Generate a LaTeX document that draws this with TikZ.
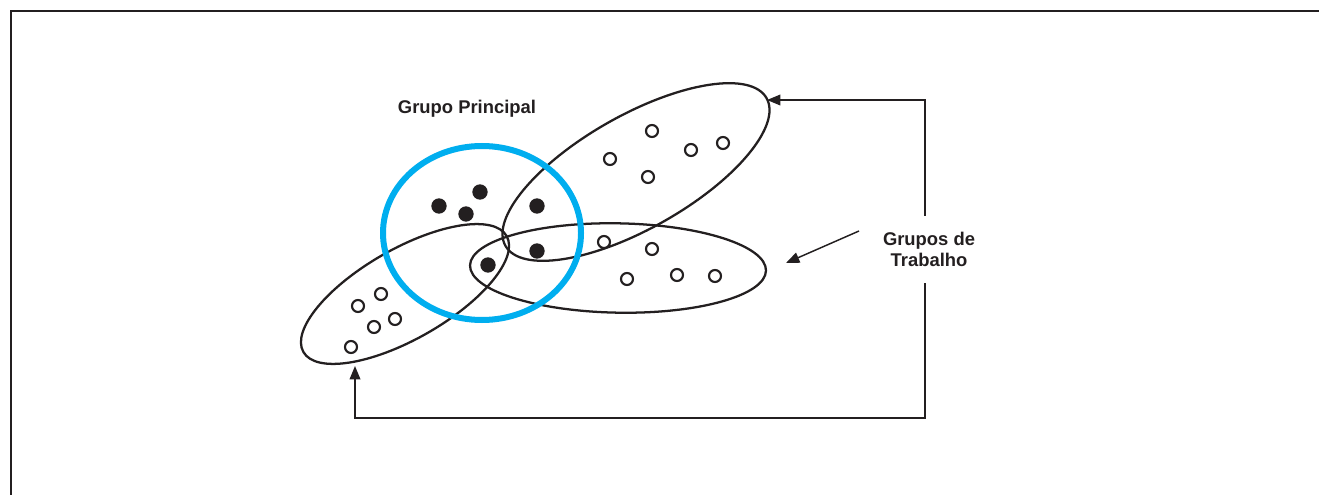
\documentclass[tikz,border=0pt]{standalone}
\usepackage{fontspec}
\setmainfont{Liberation Sans}
\usetikzlibrary{arrows.meta,shapes.geometric}
\definecolor{ink}{HTML}{231F20}
\definecolor{cyanblue}{HTML}{00AEEF}
\begin{document}
\begin{tikzpicture}[x=0.75pt,y=-0.75pt,
  grp/.style={draw=ink,line width=1.7pt,ellipse,inner sep=0pt},
  fdot/.style={circle,fill=ink,inner sep=0pt,minimum size=11.5pt},
  odot/.style={circle,draw=ink,line width=1.6pt,fill=white,inner sep=0pt,minimum size=9pt},
  conn/.style={draw=ink,line width=1.1pt,-{Triangle[length=10pt,width=8pt]}},
  lbl/.style={font=\bfseries\fontsize{13.8pt}{16.5pt}\selectfont,text=ink,inner sep=0pt,align=center}]
\useasboundingbox (0,0) rectangle (1319,495);
\fill[white] (0,0) rectangle (1319,495);
% frame
\draw[ink,line width=1.6pt] (11,495) -- (11,11) -- (1319,11);
% groups
\node[grp,minimum width=225pt,minimum height=85pt,rotate=29.5] (ur) at (636,172) {};
\node[grp,minimum width=175.5pt,minimum height=67.5pt,rotate=29.7] (ll) at (405,294) {};
\node[grp,minimum width=222pt,minimum height=67pt,rotate=-1] (lr) at (618,268) {};
\node[draw=cyanblue,line width=4.5pt,ellipse,inner sep=0pt,minimum width=148.5pt,minimum height=130.5pt] (gpc) at (482,233) {};
% filled dots
\node[fdot] (f1) at (439,206) {};
\node[fdot] (f2) at (480,192) {};
\node[fdot] (f3) at (466,214) {};
\node[fdot] (f4) at (537,206) {};
\node[fdot] (f5) at (537,251) {};
\node[fdot] (f6) at (488,265) {};
% open dots upper right
\node[odot] (o1) at (652,131) {};
\node[odot] (o2) at (610,159) {};
\node[odot] (o3) at (691,150) {};
\node[odot] (o4) at (723,143) {};
\node[odot] (o5) at (648,177) {};
% open dots lower right
\node[odot] (o6) at (604,242) {};
\node[odot] (o7) at (652,249) {};
\node[odot] (o8) at (627,279) {};
\node[odot] (o9) at (677,275) {};
\node[odot] (o10) at (715,276) {};
% open dots lower left
\node[odot] (o11) at (381,294) {};
\node[odot] (o12) at (358,306) {};
\node[odot] (o13) at (395,319) {};
\node[odot] (o14) at (374,327) {};
\node[odot] (o15) at (351,347) {};
% labels
\node[lbl,anchor=base] (gp) at (467,114) {Grupo Principal};
\node[lbl,anchor=base] (gt) at (929,267) {Grupos de\\Trabalho};
% connectors
\coordinate (s1) at (925,216);
\coordinate (b1) at (925,100);
\coordinate (t1) at (767,100);
\coordinate (s2) at (925,283);
\coordinate (b2) at (925,418);
\coordinate (b3) at (355,418);
\coordinate (t2) at (355,366);
\coordinate (s3) at (859,231);
\coordinate (t3) at (786,263);
\draw[conn] (s1) -- (b1) -- (t1);
\draw[conn] (s2) -- (b2) -- (b3) -- (t2);
\draw[conn] (s3) -- (t3);
\end{tikzpicture}
\end{document}
